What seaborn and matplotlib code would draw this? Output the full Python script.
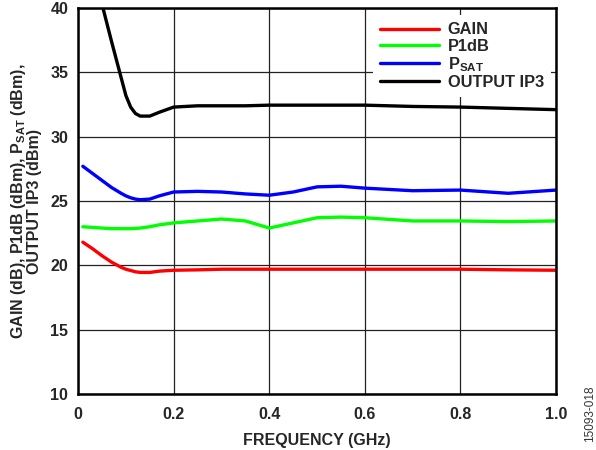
import matplotlib
matplotlib.use("Agg")
import matplotlib.pyplot as plt
import seaborn as sns
import pandas as pd

freq = [0.01, 0.03, 0.05, 0.07, 0.09, 0.10, 0.11, 0.12, 0.13, 0.15, 0.17, 0.2, 0.25, 0.3,
        0.35, 0.4, 0.45, 0.5, 0.55, 0.6, 0.7, 0.8, 0.9, 1.0]
gain = [21.8, 21.3, 20.75, 20.25, 19.85, 19.7, 19.6, 19.5, 19.45, 19.45, 19.55, 19.62, 19.65, 19.7,
        19.7, 19.7, 19.7, 19.7, 19.7, 19.7, 19.7, 19.7, 19.65, 19.62]
p1db = [23.0, 22.95, 22.9, 22.85, 22.85, 22.85, 22.85, 22.87, 22.9, 23.0, 23.15, 23.3, 23.45, 23.6,
        23.45, 22.9, 23.3, 23.7, 23.75, 23.7, 23.45, 23.45, 23.4, 23.45]
psat = [27.7, 27.15, 26.6, 26.05, 25.6, 25.4, 25.25, 25.15, 25.1, 25.15, 25.4, 25.7, 25.75, 25.7,
        25.55, 25.45, 25.7, 26.1, 26.15, 26.0, 25.8, 25.85, 25.6, 25.85]
oip3 = [46.5, 43.2, 40.3, 37.4, 34.6, 33.2, 32.3, 31.8, 31.6, 31.6, 31.9, 32.3, 32.4, 32.4,
        32.4, 32.45, 32.45, 32.45, 32.45, 32.45, 32.35, 32.3, 32.2, 32.1]

series_names = ["GAIN", "P1dB", "P$_{SAT}$", "OUTPUT IP3"]
colors = ["#ff0000", "#00ff00", "#0000ff", "#000000"]
x_ticks = [0, 0.2, 0.4, 0.6, 0.8, 1.0]
x_tick_labels = ["0", "0.2", "0.4", "0.6", "0.8", "1.0"]
y_ticks = [10, 15, 20, 25, 30, 35, 40]

rows = []
for name, vals in zip(series_names, [gain, p1db, psat, oip3]):
    for f, v in zip(freq, vals):
        rows.append({"freq": f, "val": v, "series": name})
df = pd.DataFrame(rows)

sns.set_theme(style="white")
plt.rcParams["font.family"] = ["Liberation Sans", "DejaVu Sans"]
plt.rcParams["font.weight"] = "bold"
plt.rcParams["mathtext.fontset"] = "custom"
plt.rcParams["mathtext.rm"] = "Liberation Sans:bold"
plt.rcParams["mathtext.bf"] = "Liberation Sans:bold"
plt.rcParams["mathtext.it"] = "Liberation Sans:bold"
plt.rcParams["mathtext.default"] = "rm"

fig = plt.figure(figsize=(5.96, 4.5), dpi=100)
ax = fig.add_axes([0.131, 0.1244, 0.802, 0.8578])

sns.lineplot(data=df, x="freq", y="val", hue="series", hue_order=series_names,
             palette=colors, linewidth=2.4, ax=ax, legend=True, sort=False)

ax.set_xlim(0, 1.0)
ax.set_ylim(10, 40)
ax.set_xticks(x_ticks)
ax.set_xticklabels(x_tick_labels)
ax.set_yticks(y_ticks)
ax.grid(True, color="#222222", linewidth=0.9)
ax.set_axisbelow(True)
for s in ax.spines.values():
    s.set_color("black")
    s.set_linewidth(1.8)
ax.tick_params(axis="both", labelsize=11.5, length=0)
ax.tick_params(axis="x", pad=9)
ax.tick_params(axis="y", pad=7)
for lab in ax.get_xticklabels() + ax.get_yticklabels():
    lab.set_fontweight("bold")

ax.set_xlabel("FREQUENCY (GHz)", fontsize=11.5, fontweight="bold", labelpad=8)
ax.set_ylabel("GAIN (dB), P1dB (dBm), P$_{SAT}$ (dBm),\nOUTPUT IP3 (dBm)",
              fontsize=11.5, fontweight="bold", labelpad=6, linespacing=0.92)

handles, labels = ax.get_legend_handles_labels()
leg = ax.legend(handles, labels, loc="upper right", bbox_to_anchor=(0.99, 0.982),
                frameon=True, fancybox=False,
                prop={"weight": "bold", "size": 11.8}, handlelength=3.6,
                borderaxespad=0, labelspacing=0.08, handletextpad=0.5,
                borderpad=0.45, framealpha=1)
leg.get_frame().set_edgecolor("none")
leg.get_frame().set_facecolor("white")
for line in leg.get_lines():
    line.set_linewidth(2.4)

fig.text(0.99, 0.08, "15093-018", rotation=90, fontsize=8.5, color="#333333",
         fontweight="normal", ha="center", va="center")

fig.savefig("out.png", dpi=100)
